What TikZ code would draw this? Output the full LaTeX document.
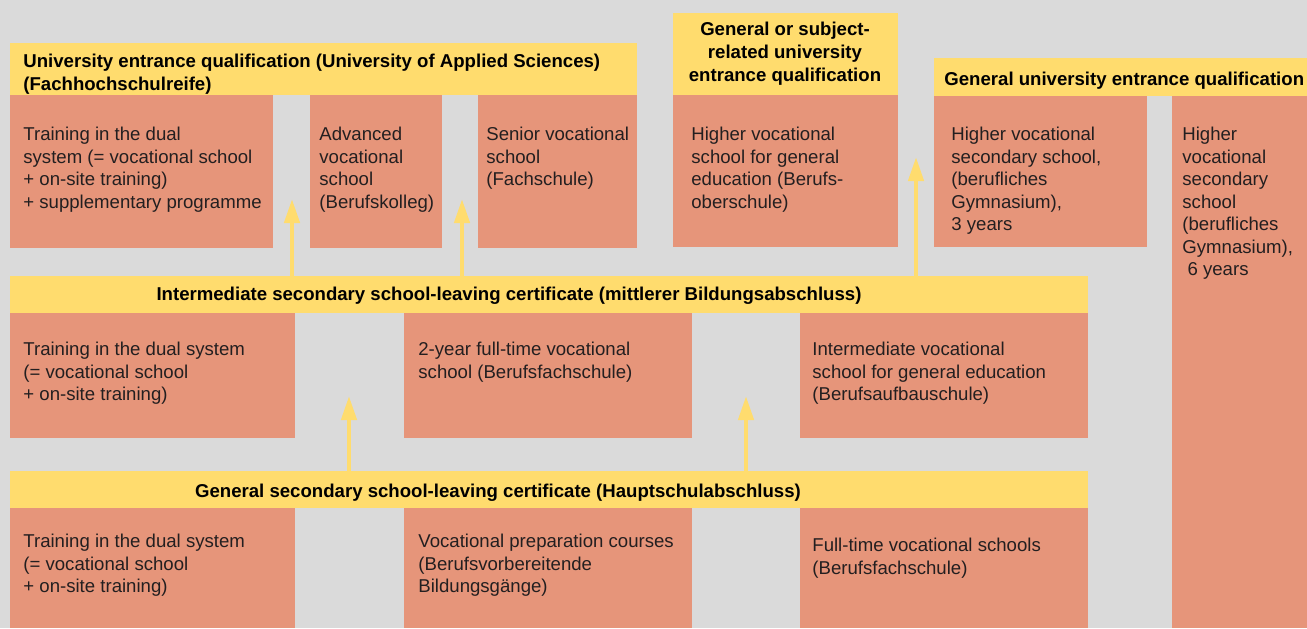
\documentclass[tikz,border=0pt]{standalone}
\usepackage{fontspec}
\setmainfont{Liberation Sans}
\usepackage{tikz}
\usetikzlibrary{arrows.meta}
\definecolor{bggray}{RGB}{218,218,218}
\definecolor{certyellow}{RGB}{255,220,110}
\definecolor{schoolred}{RGB}{230,149,122}
\definecolor{inktext}{RGB}{35,31,32}

\begin{document}
\begin{tikzpicture}[x=0.5pt,y=-0.5pt,
    school/.style={fill=schoolred},
    cert/.style={fill=certyellow},
    body/.style={anchor=north west, inner sep=0pt, align=left, text=inktext, font=\fontsize{9.3pt}{11.25pt}\selectfont},
    head/.style={inner sep=0pt, text=black, font=\fontsize{9.3pt}{11.5pt}\selectfont\bfseries},
    uparrow/.style={draw=certyellow, line width=2.2pt, -{Triangle[length=12pt,width=7.5pt]}}]
      \fill[bggray] (0,0) rectangle (1307,628);
      \useasboundingbox (0,0) rectangle (1307,628);
      % university entrance (applied sciences)
      \fill[cert] (10,43) rectangle (637,95);
      \fill[school] (10,95) rectangle (273,248);
      \fill[school] (310,95) rectangle (442,248);
      \fill[school] (478,95) rectangle (637,248);
      \node[head, anchor=north west, align=left] (fhreife) at (23,54) {University entrance qualification (University of Applied Sciences)\\(Fachhochschulreife)};
      \node[body] (dualsup) at (23,127) {Training in the dual\\system (= vocational school\\+ on-site training)\\+ supplementary programme};
      \node[body] (kolleg) at (319,127) {Advanced\\vocational\\school\\(Berufskolleg)};
      \node[body] (fachschule) at (486,127) {Senior vocational\\school\\(Fachschule)};
      % subject-related entrance
      \fill[cert] (673,13) rectangle (898,95);
      \fill[school] (673,95) rectangle (898,247);
      \node[head, anchor=north, align=center] (fachgeb) at (785,22) {General or subject-\\related university\\entrance qualification};
      \node[body] (bos) at (691,127) {Higher vocational\\school for general\\education (Berufs-\\oberschule)};
      % general entrance
      \fill[cert] (934,58) rectangle (1307,96);
      \fill[school] (934,96) rectangle (1147,247);
      \fill[school] (1172,96) rectangle (1307,628);
      \node[head, anchor=north west] (abitur) at (944,72) {General university entrance qualification};
      \node[body] (gym3) at (951,127) {Higher vocational\\secondary school,\\(berufliches\\Gymnasium),\\3 years};
      \node[body] (gym6) at (1182,127) {Higher\\vocational\\secondary\\school\\(berufliches\\Gymnasium),\\\hspace{2.6pt}6 years};
      % intermediate certificate
      \fill[cert] (10,276) rectangle (1088,313);
      \fill[school] (10,313) rectangle (295,438);
      \fill[school] (404,313) rectangle (692,438);
      \fill[school] (800,313) rectangle (1088,438);
      \node[head, anchor=base] (mittlerer) at (509,300) {Intermediate secondary school-leaving certificate (mittlerer Bildungsabschluss)};
      \node[body] (dualmid) at (23,342) {Training in the dual system\\(= vocational school\\+ on-site training)};
      \node[body] (bfs2) at (418,342) {2-year full-time vocational\\school (Berufsfachschule)};
      \node[body] (bas) at (812,342) {Intermediate vocational\\school for general education\\(Berufsaufbauschule)};
      % general secondary certificate
      \fill[cert] (10,471) rectangle (1088,508);
      \fill[school] (10,508) rectangle (295,628);
      \fill[school] (404,508) rectangle (692,628);
      \fill[school] (800,508) rectangle (1088,628);
      \node[head, anchor=base] (haupt) at (498,497) {General secondary school-leaving certificate (Hauptschulabschluss)};
      \node[body] (duallow) at (23,534) {Training in the dual system\\(= vocational school\\+ on-site training)};
      \node[body] (bvb) at (418,534) {Vocational preparation courses\\(Berufsvorbereitende\\Bildungsgänge)};
      \node[body] (bfs) at (812,538) {Full-time vocational schools\\(Berufsfachschule)};
      % arrows
      \coordinate (from1) at (292,276); \coordinate (tip1) at (292,199);
      \coordinate (from2) at (462,276); \coordinate (tip2) at (462,199);
      \coordinate (from3) at (916,276); \coordinate (tip3) at (916,157);
      \coordinate (from4) at (349,471); \coordinate (tip4) at (349,396);
      \coordinate (from5) at (746,471); \coordinate (tip5) at (746,396);
      \draw[uparrow] (from1) -- (tip1);
      \draw[uparrow] (from2) -- (tip2);
      \draw[uparrow] (from3) -- (tip3);
      \draw[uparrow] (from4) -- (tip4);
      \draw[uparrow] (from5) -- (tip5);
\end{tikzpicture}
\end{document}
